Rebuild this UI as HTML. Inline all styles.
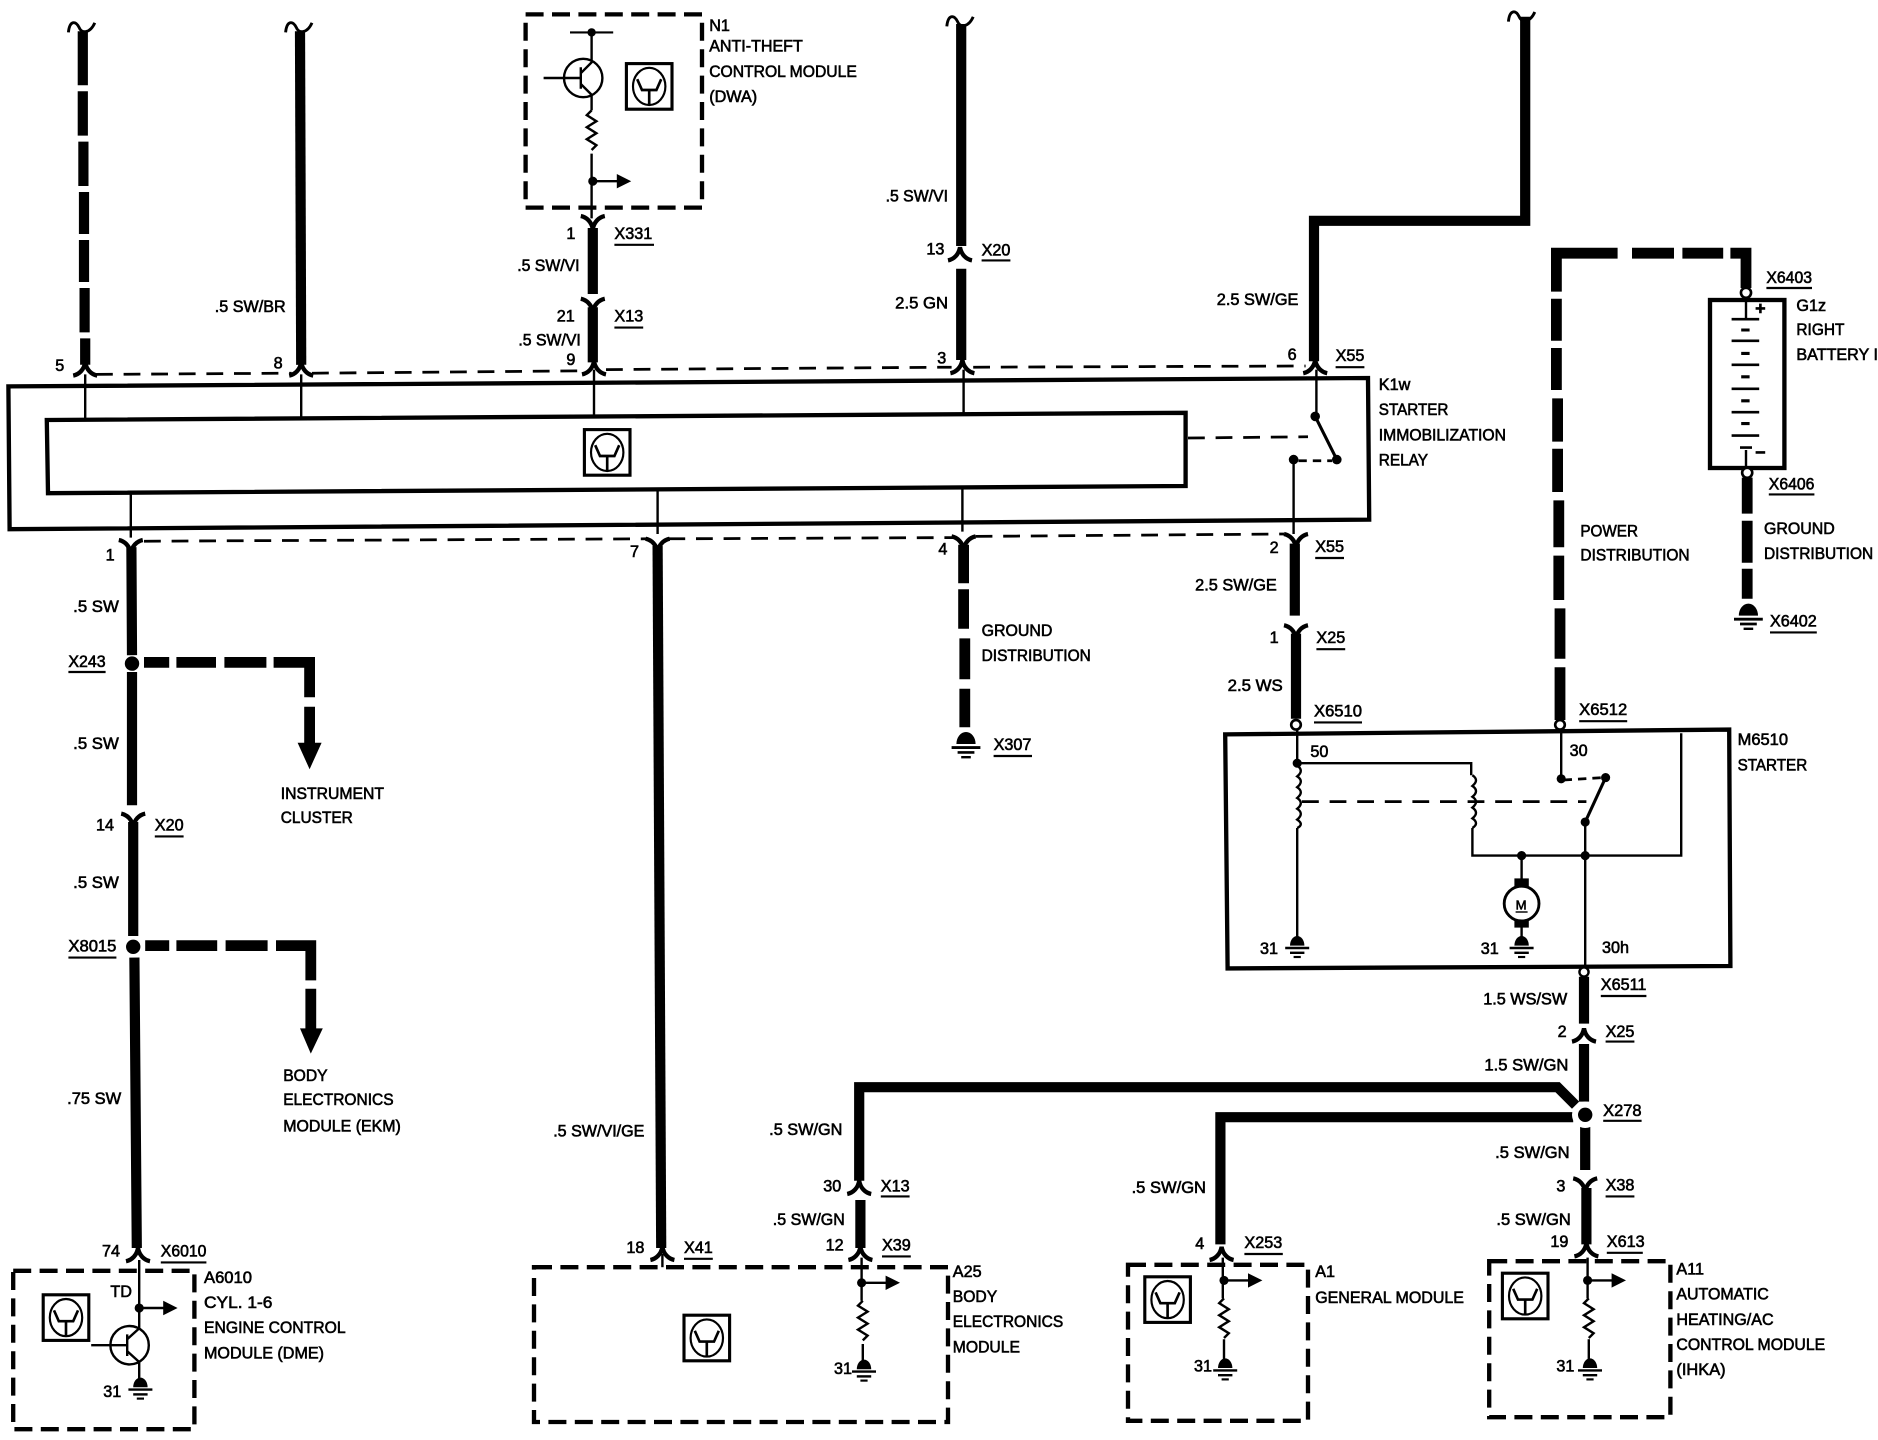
<!DOCTYPE html>
<html><head><meta charset="utf-8"><title>Starter immobilization wiring diagram</title>
<style>
html,body{margin:0;padding:0;background:#fff}
svg{display:block}
text{font-family:"Liberation Sans",sans-serif;font-size:13.5px;fill:#000;stroke:#000;stroke-width:.5}
.t{stroke:#000;stroke-width:2;fill:none}
.b{stroke:#000;stroke-width:3.6;fill:none}
.w{stroke:#000;stroke-width:8.5;fill:none}
.p{stroke:#000;stroke-width:9;fill:none}
.d{stroke:#000;stroke-width:2.3;fill:none;stroke-dasharray:14 9}
.m{stroke:#000;stroke-width:3.6;fill:none;stroke-dasharray:15 7}
</style></head><body>
<svg width="1878" height="1440" viewBox="0 0 1565 1200" xmlns="http://www.w3.org/2000/svg">
<defs>
<path id="cu" d="M-10,5 C-5,4 -1,0 0,-6 C1,0 5,4 10,5" fill="none" stroke="#000" stroke-width="3.6"/>
<path id="cd" d="M-10,-5 C-5,-4 -1,0 0,6 C1,0 5,-4 10,-5" fill="none" stroke="#000" stroke-width="3.6"/>
<path id="til" d="M-11,7 C-10,-3 -5,-3 -2,3 C0,8 7,8 11,-1" fill="none" stroke="#000" stroke-width="2.4"/>
<g id="sym"><rect x="0" y="0" width="38" height="38" fill="#fff" stroke="#000" stroke-width="2.6"/><ellipse cx="19" cy="19" rx="13.5" ry="15.5" fill="none" stroke="#000" stroke-width="1.8"/><path d="M9,13 L13,22 L25,22 L29,13 M19,22 V34" fill="none" stroke="#000" stroke-width="2.2"/></g>
<path id="res" d="M0,0 l-4,4 l8,5 l-8,5 l8,5 l-8,5 l8,5 l-4,4" fill="none" stroke="#000" stroke-width="2"/>
<g id="gnd"><path d="M-6,3 A6,8 0 0 1 6,3 Z" fill="#000"/><path d="M-10,5 H10" stroke="#000" stroke-width="2"/><path d="M-6,9 H6" stroke="#000" stroke-width="2"/><path d="M-3,12.500 H3" stroke="#000" stroke-width="1.800"/></g>
<g id="gbig"><path d="M-8,5 A8,10 0 0 1 8,5 Z" fill="#000"/><path d="M-12,8 H12" stroke="#000" stroke-width="2.4"/><path d="M-7,12 H7" stroke="#000" stroke-width="2.200"/><path d="M-4,16 H4" stroke="#000" stroke-width="2"/></g>
<g id="arr"><circle r="3.8" fill="#000"/><path d="M0,0 H22" stroke="#000" stroke-width="2"/><path d="M20,-6 L32,0 L20,6 Z" fill="#000"/></g>
</defs>

<!-- top wires -->
<use href="#til" x="68" y="20"/>
<path class="w" d="M69,26 V71 M69,76 V113 M69.500,118 V155 M70,160 V195 M70,200 V235 M70.500,240 V277 M71,282 V304"/>
<use href="#cu" x="71" y="308"/>
<use href="#til" x="249" y="20"/>
<path class="w" d="M250,26 L251,304"/>
<use href="#cu" x="251" y="308"/>
<use href="#til" x="800" y="15"/>
<path class="w" d="M801,20 V205"/>
<use href="#cu" x="800" y="212"/>
<path class="w" d="M801,224 V300"/>
<use href="#cu" x="802" y="306"/>
<use href="#til" x="1268" y="11"/>
<path class="w" d="M1271,14 V184 H1095 V301"/>
<use href="#cu" x="1096" y="306"/>

<!-- N1 -->
<rect class="m" x="438" y="12" width="147" height="161"/>
<circle cx="486" cy="65" r="16" fill="none" stroke="#000" stroke-width="2"/>
<path class="t" d="M453,65 H484 M484,56 V74 M484,61 L493,52 V27 M484,70 L493,79 V92"/>
<path d="M475,27 H511" stroke="#000" stroke-width="1.800"/><circle cx="493" cy="27" r="3.500"/>
<use href="#res" x="493" y="92"/>
<path class="t" d="M493,128 V182"/>
<use href="#arr" x="494" y="151"/>
<use href="#sym" x="522" y="53"/>
<use href="#cd" x="494" y="185"/>
<path class="w" d="M494,190 V245"/>
<use href="#cd" x="494" y="254"/>
<path class="w" d="M494,256 V302"/>
<use href="#cu" x="495" y="307"/>

<!-- dashed connector lines -->
<path class="d" d="M80,312 L243,311 M260,311 L488,309 M505,308 L793,306 M811,306 L1088,305"/>
<path class="d" d="M120,451 L540,449 M557,449 L796,448 M813,447 L1070,445"/>

<!-- K1w -->
<path class="b" d="M7,322 L1140,315 L1141,433 L8,441 Z"/>
<path class="b" d="M39,350 L988,344 L988,405 L40,411 Z"/>
<path class="t" d="M71,312 V350 M251,312 V348 M495,308 V346 M803,308 V344 M109,411 V448 M548,408 V445 M802,405 V443 M1097,308 V347 M1078,383 V445"/>
<use href="#sym" x="487" y="358"/>
<path d="M990,365 L1090,364" class="d"/>
<path d="M1096,347 L1114,383" stroke="#000" stroke-width="2.600"/>
<circle cx="1096" cy="347" r="4"/><circle cx="1114" cy="383" r="4"/><circle cx="1078" cy="383" r="4"/>
<path class="d" d="M1082,384 L1110,384" style="stroke-dasharray:7 5"/>

<!-- lower connectors from K1w -->
<use href="#cd" x="109" y="455"/>
<path class="w" d="M109.500,456 L110,546 M110,560 L110,671"/>
<circle cx="110" cy="553" r="6"/>
<use href="#cd" x="111" y="683"/>
<path class="w" d="M111,685 L111,780 M112,798 L114,1040"/>
<circle cx="111" cy="789" r="6"/>
<use href="#cu" x="115" y="1046"/>
<use href="#cd" x="548" y="454"/>
<path class="w" d="M548,455 L551,1040"/>
<use href="#cu" x="552" y="1045"/>
<path class="t" d="M552,1045 V1056"/>
<use href="#cd" x="803" y="452"/>
<path class="p" d="M803,454 V486 M803,491 V524 M804,532 V566 M804,574 V606"/>
<use href="#gbig" x="805" y="615"/>
<use href="#cd" x="1080" y="450"/>
<path class="w" d="M1079,453 V513"/>
<use href="#cd" x="1080" y="526"/>
<path class="w" d="M1080,528 V599"/>
<circle cx="1080" cy="604" r="4" fill="#fff" stroke="#000" stroke-width="2.200"/>

<!-- dashed branches -->
<path class="p" d="M120,552 H141 M147,552 H180 M187,552 H222 M228,552 H258 V581 M258,589 V620"/>
<path d="M248,619 H268 L258,641 Z" fill="#000"/>
<path class="p" d="M121,788 H141 M147,788 H181 M188,788 H223 M230,788 H259 V817 M259,824 V858"/>
<path d="M250,857 H269 L259,878 Z" fill="#000"/>

<!-- power distribution -->
<path class="p" d="M1348,211 H1297 V243 M1297,249 V284 M1297,290 V325 M1298,332 V368 M1298,374 V410 M1299,417 V456 M1299,463 V500 M1300,507 V549 M1300,556 V600" />
<path class="p" d="M1360,211 H1395 M1402,211 H1436 M1442,211 H1455 V240"/>
<circle cx="1300" cy="604" r="4" fill="#fff" stroke="#000" stroke-width="2.200"/>
<circle cx="1455" cy="244" r="4.200" fill="#fff" stroke="#000" stroke-width="2.200"/>

<!-- battery -->
<rect class="b" x="1425" y="250" width="62" height="140"/>
<path class="t" d="M1455,250 V266 M1455,375 V390"/>
<path d="M1443,266 H1466 M1443,284 H1466 M1443,304 H1466 M1443,324 H1466 M1443,343.500 H1466 M1443,363 H1466 M1450,373 H1460" stroke="#000" stroke-width="2.200"/>
<path d="M1451,275 H1458 M1451,294.500 H1458 M1451,314 H1458 M1451,334 H1458 M1451,353 H1458" stroke="#000" stroke-width="2.600"/>
<path d="M1463,257 H1471 M1467,253 V261 M1463,377 H1471" stroke="#000" stroke-width="2.200"/>
<circle cx="1456" cy="394" r="4.200" fill="#fff" stroke="#000" stroke-width="2.200"/>
<path class="p" d="M1456,398 V428 M1456,434 V469 M1456,474 V499"/>
<use href="#gbig" x="1457" y="508"/>

<!-- starter -->
<path class="b" d="M1021,612 L1441,608 L1442,805 L1023,807 Z"/>
<path class="t" d="M1081,608 V636 M1081,690 V782 M1081,636 H1226 V646 M1227,690 V713 H1401 V611 M1321,685 V808 M1301,608 V649 M1268,713 V735 M1268,772 V782"/>
<path class="t" d="M1081,638 q6,4 0,9 q6,4 0,9 q6,4 0,9 q6,4 0,9 q6,4 0,9 q6,4 0,7 M1227,646 q6,4 0,9 q6,4 0,9 q6,4 0,9 q6,4 0,9 q6,4 0,8"/>
<path class="d" d="M1085,668 H1322"/>
<path class="d" d="M1303,650 L1336,648" style="stroke-dasharray:7 5"/>
<path d="M1338,648 L1321,685" stroke="#000" stroke-width="2.600"/>
<circle cx="1081" cy="636" r="3.800"/><circle cx="1301" cy="649" r="3.800"/><circle cx="1338" cy="648" r="3.800"/><circle cx="1321" cy="685" r="3.800"/><circle cx="1268" cy="713" r="3.800"/><circle cx="1321" cy="713" r="3.800"/>
<rect x="1262" y="732" width="12" height="9"/><rect x="1262" y="765" width="12" height="8"/>
<ellipse cx="1268" cy="753" rx="14.500" ry="14.500" fill="#fff" stroke="#000" stroke-width="2.400"/>
<use href="#gnd" x="1081" y="785"/>
<use href="#gnd" x="1268" y="785"/>
<circle cx="1320" cy="810" r="3.800" fill="#fff" stroke="#000" stroke-width="2"/>

<!-- lower right wires -->
<path class="w" d="M1320,814 V853"/>
<use href="#cu" x="1320" y="863"/>
<path class="w" d="M1320,870 V918 M1321,938 V975"/>
<use href="#cd" x="1321" y="987"/>
<path class="w" d="M1322,990 V1037"/>
<use href="#cu" x="1322" y="1042"/>
<path class="w" d="M716,984 V906 H1298 L1313,921"/>
<path class="w" d="M1017,1037 V931 H1311"/>
<circle cx="1321" cy="929" r="11" fill="#fff"/><circle cx="1321" cy="929" r="6"/>
<use href="#cu" x="716" y="990"/>
<path class="w" d="M717,1000 V1040"/>
<use href="#cu" x="717" y="1045"/>
<use href="#cu" x="1018" y="1045"/>

<!-- A6010 -->
<rect class="m" x="11" y="1059" width="151" height="132"/>
<use href="#sym" x="36" y="1079"/>
<path class="t" d="M116,1050 V1108 M76,1121 H106 M106,1112 V1130 M106,1126 L116,1135 V1152"/>
<circle cx="108" cy="1121" r="16" fill="none" stroke="#000" stroke-width="2"/>
<path class="t" d="M106,1116 L116,1107"/>
<use href="#arr" x="116" y="1090"/>
<use href="#gnd" x="117" y="1153"/>

<!-- A25 -->
<rect class="m" x="445" y="1056" width="345" height="129"/>
<use href="#sym" x="570" y="1096"/>
<path class="t" d="M718,1048 V1084 M719,1120 V1136"/>
<use href="#res" x="719" y="1084"/>
<use href="#arr" x="718" y="1069"/>
<use href="#gnd" x="720" y="1138"/>

<!-- A1 -->
<rect class="m" x="940" y="1054" width="150" height="130"/>
<use href="#sym" x="954" y="1064"/>
<path class="t" d="M1019,1048 V1082 M1020,1116 V1136"/>
<use href="#res" x="1020" y="1082"/>
<use href="#arr" x="1020" y="1067"/>
<use href="#gnd" x="1021" y="1137"/>

<!-- A11 -->
<rect class="m" x="1241" y="1051" width="151" height="130"/>
<use href="#sym" x="1252" y="1061"/>
<path class="t" d="M1323,1048 V1082 M1324,1116 V1136"/>
<use href="#res" x="1324" y="1082"/>
<use href="#arr" x="1323" y="1067"/>
<use href="#gnd" x="1325" y="1137"/>

<!-- connector underlines -->
<path stroke="#000" stroke-width="1.800" fill="none" d="M512,204 H545 M512,273 H536 M818,217 H842 M1113,306 H1137 M57,560 H88 M129,697 H153 M57,798 H97 M134,1052 H172 M570,1049 H594 M734,997 H758 M735,1047 H759 M1037,1045 H1069 M1334,830 H1372 M1338,868 H1362 M1336,934 H1368 M1338,997 H1362 M1339,1044 H1369 M1096,465 H1120 M1097,541 H1121 M1095,602 H1135 M1316,601 H1356 M1472,240 H1510 M1474,412 H1512 M1475,527 H1514 M828,630 H860"/>

<!-- labels -->
<text x="591" y="26">N1</text>
<text x="591" y="43" textLength="78" lengthAdjust="spacingAndGlyphs">ANTI-THEFT</text>
<text x="591" y="64" textLength="123" lengthAdjust="spacingAndGlyphs">CONTROL MODULE</text>
<text x="591" y="85" textLength="40" lengthAdjust="spacingAndGlyphs">(DWA)</text>
<text x="472" y="199">1</text><text x="512" y="199">X331</text>
<text x="431" y="226" textLength="52" lengthAdjust="spacingAndGlyphs">.5 SW/VI</text>
<text x="464" y="268">21</text><text x="512" y="268">X13</text>
<text x="432" y="288" textLength="52" lengthAdjust="spacingAndGlyphs">.5 SW/VI</text>
<text x="472" y="304">9</text>
<text x="46" y="309">5</text><text x="228" y="307">8</text>
<text x="179" y="260" textLength="59" lengthAdjust="spacingAndGlyphs">.5 SW/BR</text>
<text x="738" y="168" textLength="52" lengthAdjust="spacingAndGlyphs">.5 SW/VI</text>
<text x="772" y="212">13</text><text x="818" y="213">X20</text>
<text x="746" y="257" textLength="44" lengthAdjust="spacingAndGlyphs">2.5 GN</text>
<text x="781" y="303">3</text>
<text x="1073" y="300">6</text><text x="1113" y="301">X55</text>
<text x="1014" y="254" textLength="68" lengthAdjust="spacingAndGlyphs">2.5 SW/GE</text>
<text x="1149" y="325">K1w</text>
<text x="1149" y="346" textLength="58" lengthAdjust="spacingAndGlyphs">STARTER</text>
<text x="1149" y="367" textLength="106" lengthAdjust="spacingAndGlyphs">IMMOBILIZATION</text>
<text x="1149" y="388" textLength="41" lengthAdjust="spacingAndGlyphs">RELAY</text>
<text x="1472" y="236" textLength="38" lengthAdjust="spacingAndGlyphs">X6403</text>
<text x="1497" y="259">G1z</text>
<text x="1497" y="279" textLength="40" lengthAdjust="spacingAndGlyphs">RIGHT</text>
<text x="1497" y="300" textLength="68" lengthAdjust="spacingAndGlyphs">BATTERY I</text>
<text x="1474" y="408" textLength="38" lengthAdjust="spacingAndGlyphs">X6406</text>
<text x="1470" y="445" textLength="59" lengthAdjust="spacingAndGlyphs">GROUND</text>
<text x="1470" y="466" textLength="91" lengthAdjust="spacingAndGlyphs">DISTRIBUTION</text>
<text x="1475" y="522" textLength="39" lengthAdjust="spacingAndGlyphs">X6402</text>
<text x="1317" y="447" textLength="48" lengthAdjust="spacingAndGlyphs">POWER</text>
<text x="1317" y="467" textLength="91" lengthAdjust="spacingAndGlyphs">DISTRIBUTION</text>
<text x="88" y="467">1</text><text x="525" y="464">7</text><text x="782" y="462">4</text><text x="1058" y="461">2</text><text x="1096" y="460">X55</text>
<text x="61" y="510" textLength="38" lengthAdjust="spacingAndGlyphs">.5 SW</text>
<text x="57" y="556" textLength="31" lengthAdjust="spacingAndGlyphs">X243</text>
<text x="61" y="624" textLength="38" lengthAdjust="spacingAndGlyphs">.5 SW</text>
<text x="80" y="692">14</text><text x="129" y="692">X20</text>
<text x="61" y="740" textLength="38" lengthAdjust="spacingAndGlyphs">.5 SW</text>
<text x="57" y="793" textLength="40" lengthAdjust="spacingAndGlyphs">X8015</text>
<text x="56" y="920" textLength="45" lengthAdjust="spacingAndGlyphs">.75 SW</text>
<text x="85" y="1047">74</text><text x="134" y="1047" textLength="38" lengthAdjust="spacingAndGlyphs">X6010</text>
<text x="234" y="666" textLength="86" lengthAdjust="spacingAndGlyphs">INSTRUMENT</text>
<text x="234" y="686" textLength="60" lengthAdjust="spacingAndGlyphs">CLUSTER</text>
<text x="236" y="901" textLength="37" lengthAdjust="spacingAndGlyphs">BODY</text>
<text x="236" y="921" textLength="92" lengthAdjust="spacingAndGlyphs">ELECTRONICS</text>
<text x="236" y="943" textLength="98" lengthAdjust="spacingAndGlyphs">MODULE (EKM)</text>
<text x="461" y="947" textLength="76" lengthAdjust="spacingAndGlyphs">.5 SW/VI/GE</text>
<text x="522" y="1044">18</text><text x="570" y="1044">X41</text>
<text x="818" y="530" textLength="59" lengthAdjust="spacingAndGlyphs">GROUND</text>
<text x="818" y="551" textLength="91" lengthAdjust="spacingAndGlyphs">DISTRIBUTION</text>
<text x="828" y="625">X307</text>
<text x="996" y="492" textLength="68" lengthAdjust="spacingAndGlyphs">2.5 SW/GE</text>
<text x="1058" y="536">1</text><text x="1097" y="536">X25</text>
<text x="1023" y="576" textLength="46" lengthAdjust="spacingAndGlyphs">2.5 WS</text>
<text x="1095" y="597" textLength="40" lengthAdjust="spacingAndGlyphs">X6510</text>
<text x="1316" y="596" textLength="40" lengthAdjust="spacingAndGlyphs">X6512</text>
<text x="1448" y="621" textLength="42" lengthAdjust="spacingAndGlyphs">M6510</text>
<text x="1448" y="642" textLength="58" lengthAdjust="spacingAndGlyphs">STARTER</text>
<text x="1092" y="631">50</text><text x="1308" y="630">30</text>
<text x="1050" y="795">31</text><text x="1234" y="795">31</text><text x="1335" y="794">30h</text>
<text x="1263" y="758" style="font-size:11px">M</text><path d="M1263,760 H1273" stroke="#000" stroke-width="1.200"/>
<text x="1236" y="837" textLength="70" lengthAdjust="spacingAndGlyphs">1.5 WS/SW</text>
<text x="1334" y="825" textLength="38" lengthAdjust="spacingAndGlyphs">X6511</text>
<text x="1298" y="864">2</text><text x="1338" y="864">X25</text>
<text x="1237" y="892" textLength="70" lengthAdjust="spacingAndGlyphs">1.5 SW/GN</text>
<text x="1336" y="930" textLength="32" lengthAdjust="spacingAndGlyphs">X278</text>
<text x="1246" y="965" textLength="62" lengthAdjust="spacingAndGlyphs">.5 SW/GN</text>
<text x="1297" y="993">3</text><text x="1338" y="992">X38</text>
<text x="1247" y="1021" textLength="62" lengthAdjust="spacingAndGlyphs">.5 SW/GN</text>
<text x="1292" y="1039">19</text><text x="1339" y="1039">X613</text>
<text x="641" y="946" textLength="61" lengthAdjust="spacingAndGlyphs">.5 SW/GN</text>
<text x="686" y="993">30</text><text x="734" y="993">X13</text>
<text x="644" y="1021" textLength="60" lengthAdjust="spacingAndGlyphs">.5 SW/GN</text>
<text x="688" y="1042">12</text><text x="735" y="1042">X39</text>
<text x="943" y="994" textLength="62" lengthAdjust="spacingAndGlyphs">.5 SW/GN</text>
<text x="996" y="1041">4</text><text x="1037" y="1040">X253</text>
<text x="92" y="1081">TD</text>
<text x="170" y="1069" textLength="40" lengthAdjust="spacingAndGlyphs">A6010</text>
<text x="170" y="1090" textLength="57" lengthAdjust="spacingAndGlyphs">CYL. 1-6</text>
<text x="170" y="1111" textLength="118" lengthAdjust="spacingAndGlyphs">ENGINE CONTROL</text>
<text x="170" y="1132" textLength="100" lengthAdjust="spacingAndGlyphs">MODULE (DME)</text>
<text x="86" y="1164">31</text>
<text x="794" y="1064">A25</text>
<text x="794" y="1085" textLength="37" lengthAdjust="spacingAndGlyphs">BODY</text>
<text x="794" y="1106" textLength="92" lengthAdjust="spacingAndGlyphs">ELECTRONICS</text>
<text x="794" y="1127" textLength="56" lengthAdjust="spacingAndGlyphs">MODULE</text>
<text x="695" y="1145">31</text>
<text x="1096" y="1064">A1</text>
<text x="1096" y="1086" textLength="124" lengthAdjust="spacingAndGlyphs">GENERAL MODULE</text>
<text x="995" y="1143">31</text>
<text x="1397" y="1062">A11</text>
<text x="1397" y="1083" textLength="77" lengthAdjust="spacingAndGlyphs">AUTOMATIC</text>
<text x="1397" y="1104" textLength="81" lengthAdjust="spacingAndGlyphs">HEATING/AC</text>
<text x="1397" y="1125" textLength="124" lengthAdjust="spacingAndGlyphs">CONTROL MODULE</text>
<text x="1397" y="1146" textLength="41" lengthAdjust="spacingAndGlyphs">(IHKA)</text>
<text x="1297" y="1143">31</text>
</svg>
</body></html>
